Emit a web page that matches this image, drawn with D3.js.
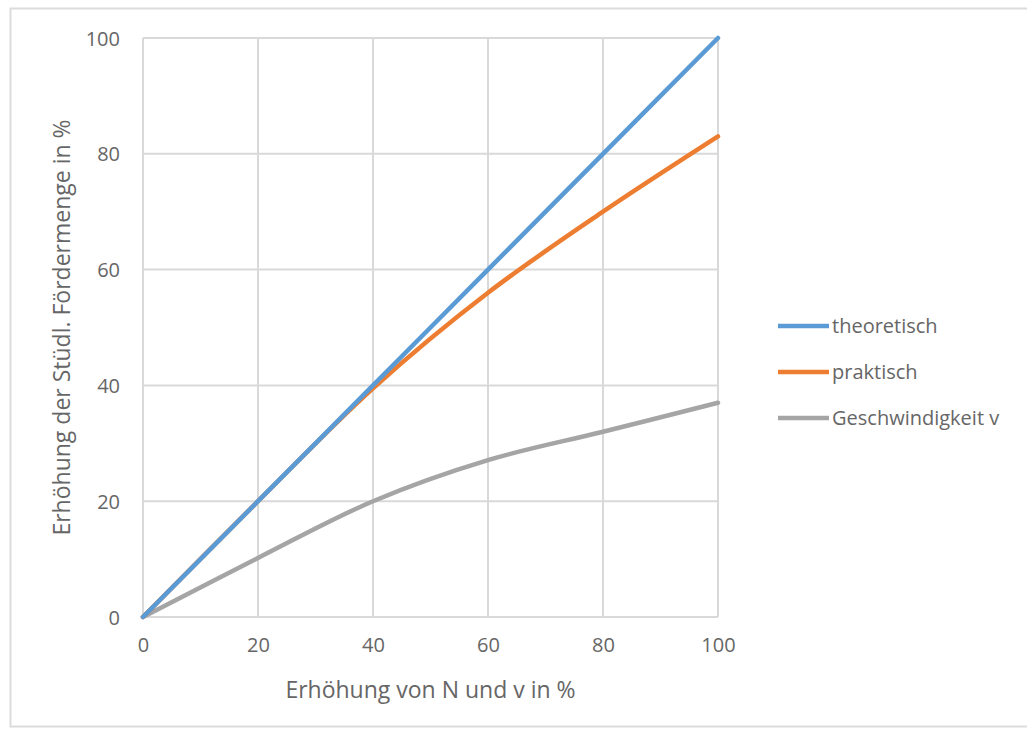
<!DOCTYPE html>
<html>
<head>
<meta charset="utf-8">
<script src="https://cdn.jsdelivr.net/npm/d3@7"></script>
<style>
  html, body { margin: 0; padding: 0; background: #ffffff; }
  svg { display: block; font-family: "Open Sans", "Noto Sans", sans-serif; }
</style>
</head>
<body>
<svg id="chart" width="1027" height="729"></svg>
<script>
// Increase of N and v (%) on the x axis
const xValues = [0, 20, 40, 60, 80, 100];
// Increase of hourly conveying capacity (%)
const theoretisch = [0, 20, 40, 60, 80, 100];
const praktisch = [0, 20, 39.5, 56, 70, 83];
const geschwindigkeit = [0, 10.2, 20, 27.1, 32, 37];

const seriesNames = ["theoretisch", "praktisch", "Geschwindigkeit v"];
const seriesValues = [theoretisch, praktisch, geschwindigkeit];
const seriesColors = ["#5b9bd5", "#ed7d31", "#a5a5a5"];

const xTicks = [0, 20, 40, 60, 80, 100];
const yTicks = [0, 20, 40, 60, 80, 100];

const xTitle = "Erhöhung von N und v in %";
const yTitle = "Erhöhung der Stüdl. Fördermenge in %";

const svg = d3.select("#chart");
const textColor = "#666666";
const gridColor = "#d9d9d9";

// outer chart frame
svg.append("rect")
  .attr("x", 10.5).attr("y", 8.5)
  .attr("width", 1030).attr("height", 718)
  .attr("fill", "#ffffff")
  .attr("stroke", "#dcdcdc").attr("stroke-width", 2);

const plot = { left: 143, right: 718, top: 38, bottom: 617 };

const x = d3.scaleLinear().domain([0, 100]).range([plot.left, plot.right]);
const y = d3.scaleLinear().domain([0, 100]).range([plot.bottom, plot.top]);

// gridlines
const grid = svg.append("g");
grid.selectAll("line.v").data(xTicks).join("line")
  .attr("x1", d => x(d)).attr("x2", d => x(d))
  .attr("y1", plot.top).attr("y2", plot.bottom)
  .attr("stroke", gridColor).attr("stroke-width", 2);
grid.selectAll("line.h").data(yTicks).join("line")
  .attr("x1", plot.left).attr("x2", plot.right)
  .attr("y1", d => y(d)).attr("y2", d => y(d))
  .attr("stroke", gridColor).attr("stroke-width", 2);

// axes (labels only)
const xAxis = svg.append("g")
  .attr("transform", `translate(0,${plot.bottom})`)
  .call(d3.axisBottom(x).tickValues(xTicks).tickSize(0).tickPadding(20));
const yAxis = svg.append("g")
  .attr("transform", `translate(${plot.left},0)`)
  .call(d3.axisLeft(y).tickValues(yTicks).tickSize(0).tickPadding(23));
[xAxis, yAxis].forEach(a => {
  a.select(".domain").remove();
  a.selectAll("text")
    .attr("fill", textColor)
    .style("font-size", "20px")
    .style("font-family", "\"Open Sans\", sans-serif");
});
yAxis.selectAll("text").attr("dy", "0.35em");
xAxis.selectAll("text").attr("dy", "0.75em");

// axis titles
svg.append("text")
  .attr("x", (plot.left + plot.right) / 2)
  .attr("y", 698)
  .attr("text-anchor", "middle")
  .attr("fill", textColor)
  .style("font-size", "23px")
  .text(xTitle);

svg.append("text")
  .attr("transform", `translate(70,${(plot.top + plot.bottom) / 2}) rotate(-90)`)
  .attr("text-anchor", "middle")
  .attr("fill", textColor)
  .style("font-size", "23px")
  .text(yTitle);

// smoothed series lines
const line = d3.line()
  .x((d, i) => x(xValues[i]))
  .y(d => y(d))
  .curve(d3.curveCatmullRom.alpha(0.5));

// draw grey first, then orange, then blue on top
const drawOrder = [2, 1, 0];
svg.append("g").selectAll("path")
  .data(drawOrder)
  .join("path")
  .attr("d", i => line(seriesValues[i]))
  .attr("fill", "none")
  .attr("stroke", i => seriesColors[i])
  .attr("stroke-width", 4.5)
  .attr("stroke-linecap", "round")
  .attr("stroke-linejoin", "round");

// legend
const legendY = [326, 372, 418];
const legend = svg.append("g");
seriesNames.forEach((name, i) => {
  legend.append("line")
    .attr("x1", 778).attr("x2", 829)
    .attr("y1", legendY[i]).attr("y2", legendY[i])
    .attr("stroke", seriesColors[i]).attr("stroke-width", 4.5);
  legend.append("text")
    .attr("x", 832).attr("y", legendY[i])
    .attr("dy", "0.35em")
    .attr("fill", textColor)
    .style("font-size", "20px")
    .text(name);
});
</script>
</body>
</html>
